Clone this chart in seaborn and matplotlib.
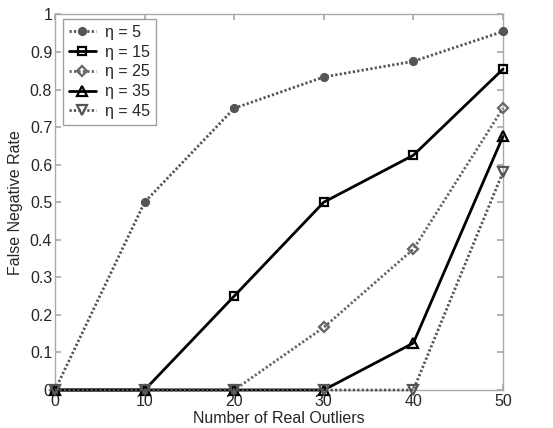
import matplotlib
matplotlib.use("Agg")
import matplotlib.pyplot as plt
import seaborn as sns
import pandas as pd

outliers = [0, 10, 20, 30, 40, 50]
eta_labels = ["η = 5", "η = 15", "η = 25", "η = 35", "η = 45"]
fnr_eta5 = [0.0, 0.5, 0.75, 0.8333, 0.875, 0.9545]
fnr_eta15 = [0.0, 0.0, 0.25, 0.5, 0.625, 0.8542]
fnr_eta25 = [0.0, 0.0, 0.0, 0.1667, 0.375, 0.75]
fnr_eta35 = [0.0, 0.0, 0.0, 0.0, 0.125, 0.675]
fnr_eta45 = [0.0, 0.0, 0.0, 0.0, 0.0, 0.58]

series = [fnr_eta5, fnr_eta15, fnr_eta25, fnr_eta35, fnr_eta45]
rows = []
for lab, vals in zip(eta_labels, series):
    for x, y in zip(outliers, vals):
        rows.append({"outliers": x, "fnr": y, "eta": lab})
df = pd.DataFrame(rows)

sns.set_theme(style="white")
plt.rcParams["font.family"] = ["Liberation Sans", "DejaVu Sans"]

dots = (0, (0.8, 0.8))
styles = {
    "η = 5":  dict(color="#555555", ls=dots, marker="o", mfc="#555555", mec="#555555", ms=5),
    "η = 15": dict(color="black", ls="-", marker="s", mfc="none", mec="black", ms=6),
    "η = 25": dict(color="#666666", ls=dots, marker="D", mfc="none", mec="#666666", ms=5),
    "η = 35": dict(color="black", ls="-", marker="^", mfc="none", mec="black", ms=7),
    "η = 45": dict(color="#555555", ls=dots, marker="v", mfc="none", mec="#555555", ms=7),
}

fig = plt.figure(figsize=(5.53, 4.28), dpi=100)
ax = fig.add_axes([0.0995, 0.0888, 0.810, 0.8776])

for lab in eta_labels:
    st = styles[lab]
    sub = df[df["eta"] == lab]
    sns.lineplot(data=sub, x="outliers", y="fnr", ax=ax, color=st["color"],
                 linestyle=st["ls"], linewidth=2, marker=st["marker"],
                 markersize=st["ms"], markerfacecolor=st["mfc"],
                 markeredgecolor=st["mec"], markeredgewidth=1.6,
                 label=lab, clip_on=False, zorder=3)

ax.set_xlim(0, 50)
ax.set_ylim(0, 1)
ax.set_xticks(outliers)
ax.set_yticks([0, 0.1, 0.2, 0.3, 0.4, 0.5, 0.6, 0.7, 0.8, 0.9, 1])
ax.set_yticklabels(["0", "0.1", "0.2", "0.3", "0.4", "0.5", "0.6", "0.7", "0.8", "0.9", "1"])
ax.tick_params(direction="in", length=4, color="#aaaaaa", labelsize=11.5,
               top=True, right=True, bottom=True, left=True)
ax.tick_params(axis="x", pad=3)
ax.tick_params(axis="y", pad=2)
for sp in ax.spines.values():
    sp.set_color("#aaaaaa")
    sp.set_linewidth(1)
ax.set_xlabel("Number of Real Outliers", fontsize=11.5, labelpad=1)
ax.set_ylabel("False Negative Rate", fontsize=11.5, labelpad=5)

leg = ax.legend(loc="upper left", fontsize=11.5, frameon=True, fancybox=False,
                edgecolor="#888888", handlelength=1.7, borderpad=0.35,
                labelspacing=0.3, handletextpad=0.6, borderaxespad=0,
                bbox_to_anchor=(0.018, 0.987))
leg.get_frame().set_linewidth(1)

fig.savefig("out.png", dpi=100)
